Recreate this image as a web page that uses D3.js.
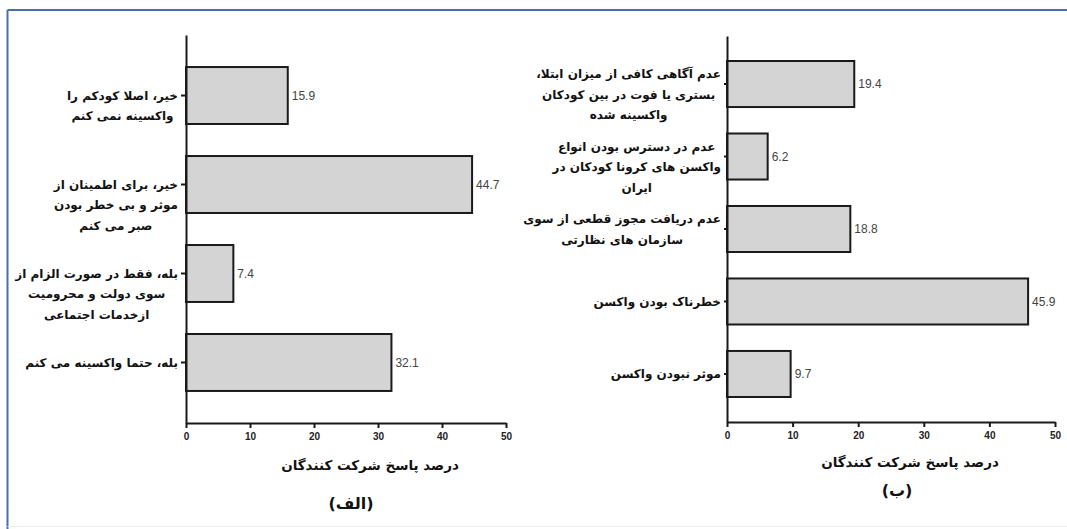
<!DOCTYPE html>
<html>
<head>
<meta charset="utf-8">
<script src="https://cdn.jsdelivr.net/npm/d3@7/dist/d3.min.js"></script>
<style>
  html, body { margin: 0; padding: 0; background: #fff; }
  svg { display: block; }
  .fa { font-family: "DejaVu Sans", sans-serif; font-weight: bold; fill: #111; }
</style>
</head>
<body>
<svg id="chart" width="1067" height="529"></svg>
<script>
// ---- data ----
const leftCategories = [
  ["خیر، اصلا کودکم را", "واکسینه نمی کنم"],
  ["خیر، برای اطمینان از", "موثر و بی خطر بودن", "صبر می کنم"],
  ["بله، فقط در صورت الزام از", "سوی دولت و محرومیت", "ازخدمات اجتماعی"],
  ["بله، حتما واکسینه می کنم"]
];
const leftValues = [15.9, 44.7, 7.4, 32.1];

const rightCategories = [
  ["عدم آگاهی کافی از میزان ابتلا،", "بستری یا فوت در بین کودکان", "واکسینه شده"],
  ["عدم در دسترس بودن انواع", "واکسن های کرونا کودکان در", "ایران"],
  ["عدم دریافت مجوز قطعی از سوی", "سازمان های نظارتی"],
  ["خطرناک بودن واکسن"],
  ["موثر نبودن واکسن"]
];
const rightValues = [19.4, 6.2, 18.8, 45.9, 9.7];

const xTicks = [0, 10, 20, 30, 40, 50];
const xDomain = [0, 50];
const axisTitle = "درصد پاسخ شرکت کنندگان";
const panelLabels = ["(الف)", "(ب)"];

// ---- layout ----
const panels = [
  { cats: leftCategories, vals: leftValues, label: panelLabels[0],
    x0: 186, x1: 506, yTop: 35, yBottom: 423, pIn: 0.36, pOut: 0.36,
    yTick: 5, gap: 3, firstShift: 0, titleX: 370, titleY: 465, panelX: 351, panelY: 503 },
  { cats: rightCategories, vals: rightValues, label: panelLabels[1],
    x0: 727, x1: 1055, yTop: 36, yBottom: 422, pIn: 0.365, pOut: 0.345,
    yTick: 3, gap: 3, firstShift: -10, titleX: 910, titleY: 462, panelX: 897, panelY: 490 }
];

const svg = d3.select("#chart");

// frame
svg.append("line").attr("x1", 7.5).attr("x2", 7.5).attr("y1", 10).attr("y2", 529)
  .attr("stroke", "#4a6ea8").attr("stroke-width", 2);
svg.append("line").attr("x1", 7.5).attr("x2", 1067).attr("y1", 10).attr("y2", 10)
  .attr("stroke", "#4a6ea8").attr("stroke-width", 2);
svg.append("line").attr("x1", 7.5).attr("x2", 1067).attr("y1", 526.5).attr("y2", 526.5)
  .attr("stroke", "#ececec").attr("stroke-width", 1);

panels.forEach(p => {
  const g = svg.append("g");
  const idx = d3.range(p.vals.length);
  const x = d3.scaleLinear().domain(xDomain).range([p.x0, p.x1]);
  const y = d3.scaleBand().domain(idx).range([p.yTop, p.yBottom])
    .paddingInner(p.pIn).paddingOuter(p.pOut);

  // bars
  g.selectAll("rect.bar").data(idx).join("rect")
    .attr("class", "bar")
    .attr("x", x(0))
    .attr("y", i => y(i))
    .attr("width", i => x(p.vals[i]) - x(0))
    .attr("height", y.bandwidth())
    .attr("fill", "#d4d4d4")
    .attr("stroke", "#1a1a1a")
    .attr("stroke-width", 2);

  // value labels
  g.selectAll("text.val").data(idx).join("text")
    .attr("class", "val")
    .attr("x", i => x(p.vals[i]) + 4)
    .attr("y", i => y(i) + y.bandwidth() / 2)
    .attr("dy", "0.35em")
    .attr("font-family", "Liberation Sans Narrow, Arial Narrow, Liberation Sans, Arial, sans-serif")
    .attr("font-size", 12)
    .attr("fill", "#444")
    .text(i => p.vals[i].toFixed(1));

  // x axis
  const xAxis = d3.axisBottom(x).tickValues(xTicks).tickSize(5).tickSizeOuter(0).tickPadding(5)
    .tickFormat(d3.format("d"));
  const gx = g.append("g").attr("transform", `translate(0,${p.yBottom})`).call(xAxis);
  gx.select(".domain").attr("stroke", "#1a1a1a").attr("stroke-width", 2);
  gx.selectAll(".tick line").attr("stroke", "#1a1a1a").attr("stroke-width", 2);
  gx.selectAll(".tick text").attr("font-family", "Liberation Sans, Arial, sans-serif")
    .attr("font-weight", "bold").attr("font-size", 10).attr("fill", "#222");

  // y axis
  const yAxis = d3.axisLeft(y).tickSize(p.yTick).tickSizeOuter(0).tickFormat("");
  const gy = g.append("g").attr("transform", `translate(${p.x0},0)`).call(yAxis);
  gy.select(".domain").attr("stroke", "#1a1a1a").attr("stroke-width", 2);
  gy.selectAll(".tick line").attr("stroke", "#1a1a1a").attr("stroke-width", 2);

  // category labels (each line its own text, centered block right-aligned to axis)
  idx.forEach(i => {
    const lines = p.cats[i];
    const cy = y(i) + y.bandwidth() / 2 + (lines.length > 1 ? p.firstShift : 0);
    const texts = lines.map((ln, k) => g.append("text").attr("class", "fa")
      .attr("direction", "rtl")
      .attr("font-size", 12)
      .attr("text-anchor", "middle")
      .attr("y", cy + k * 20.5).attr("dy", "0.35em").text(ln));
    const maxW = d3.max(texts, t => t.node().getComputedTextLength());
    texts.forEach(t => t.attr("x", p.x0 - p.yTick - p.gap - maxW / 2));
  });

  // axis title
  g.append("text").attr("class", "fa").attr("direction", "rtl")
    .attr("x", p.titleX).attr("y", p.titleY).attr("dy", "0.35em")
    .attr("text-anchor", "middle").attr("font-size", 13.5).text(axisTitle);

  // panel label
  g.append("text").attr("class", "fa").attr("direction", "rtl")
    .attr("x", p.panelX).attr("y", p.panelY).attr("dy", "0.35em")
    .attr("text-anchor", "middle").attr("font-size", 16).text(p.label);
});
</script>
</body>
</html>
